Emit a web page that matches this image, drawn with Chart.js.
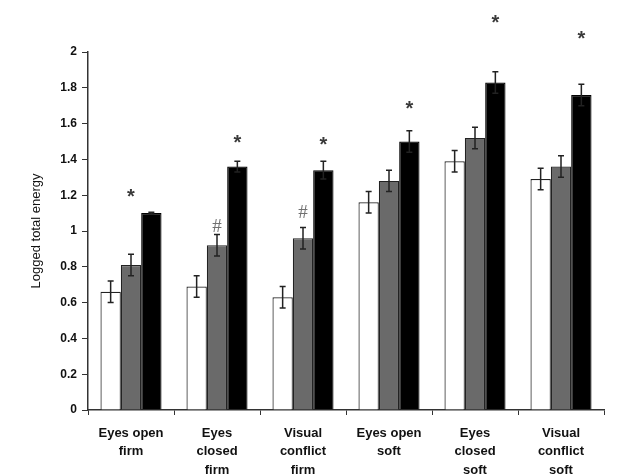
<!DOCTYPE html>
<html lang="en">
<head>
    <meta charset="UTF-8">
    <script src="https://cdn.jsdelivr.net/npm/chart.js"></script>
    <title>Logged total energy</title>
    <style>
        html, body { margin: 0; padding: 0; background: #fff; }
        #box { width: 622px; height: 476px; }
    </style>
</head>
<body>
    <div id="box"><canvas id="grafico"></canvas></div>

    <script>
        // dados
        const categorias = [
            ['Eyes open', 'firm'],
            ['Eyes', 'closed', 'firm'],
            ['Visual', 'conflict', 'firm'],
            ['Eyes open', 'soft'],
            ['Eyes', 'closed', 'soft'],
            ['Visual', 'conflict', 'soft']
        ]
        const valoresBranco = [0.66, 0.69, 0.63, 1.16, 1.39, 1.29]
        const valoresCinza = [0.81, 0.92, 0.96, 1.28, 1.52, 1.36]
        const valoresPreto = [1.10, 1.36, 1.34, 1.50, 1.83, 1.76]
        const erroBranco = [0.06, 0.06, 0.06, 0.06, 0.06, 0.06]
        const erroCinza = [0.06, 0.06, 0.06, 0.06, 0.06, 0.06]
        const erroPreto = [0.005, 0.03, 0.05, 0.06, 0.06, 0.06]

        // marcas de significancia: texto, serie, valor no eixo y
        const marcaTexto = ['*', '#', '*', '#', '*', '*', '*', '*']
        const marcaGrupo = [0, 1, 1, 2, 2, 3, 4, 5]
        const marcaSerie = [1, 1, 2, 1, 2, 2, 2, 2]
        const marcaValor = [1.21, 1.02, 1.51, 1.10, 1.50, 1.70, 2.18, 2.09]

        const yTicks = [0, 0.2, 0.4, 0.6, 0.8, 1, 1.2, 1.4, 1.6, 1.8, 2]

        const erros = [erroBranco, erroCinza, erroPreto]

        const pluginErros = {
            id: 'barrasErro',
            afterDatasetsDraw(chart) {
                const ctx = chart.ctx
                const y = chart.scales.y
                ctx.save()
                ctx.strokeStyle = '#222'
                ctx.lineWidth = 1.5
                chart.data.datasets.forEach(function (ds, i) {
                    const meta = chart.getDatasetMeta(i)
                    meta.data.forEach(function (barra, j) {
                        const v = ds.data[j]
                        const e = erros[i][j]
                        const topo = y.getPixelForValue(v + e)
                        const base = y.getPixelForValue(v - e)
                        ctx.beginPath()
                        ctx.moveTo(barra.x, topo)
                        ctx.lineTo(barra.x, base)
                        ctx.moveTo(barra.x - 3, topo)
                        ctx.lineTo(barra.x + 3, topo)
                        ctx.moveTo(barra.x - 3, base)
                        ctx.lineTo(barra.x + 3, base)
                        ctx.stroke()
                    })
                })

                // estrelas e #
                ctx.textAlign = 'center'
                ctx.textBaseline = 'middle'
                for (let k = 0; k < marcaTexto.length; k++) {
                    const barra = chart.getDatasetMeta(marcaSerie[k]).data[marcaGrupo[k]]
                    const py = y.getPixelForValue(marcaValor[k])
                    if (marcaTexto[k] == '*') {
                        ctx.fillStyle = '#3a3a3a'
                        ctx.font = 'bold 20px "Liberation Sans", Arial, sans-serif'
                        ctx.fillText('*', barra.x, py + 4)
                    } else {
                        ctx.fillStyle = '#707070'
                        ctx.font = '19px "Liberation Serif", serif'
                        ctx.fillText('#', barra.x, py)
                    }
                }
                ctx.restore()
            }
        }

        const data = {
            labels: categorias,
            datasets: [{
                label: 'branco',
                data: valoresBranco,
                backgroundColor: '#ffffff',
                borderColor: '#222',
                borderWidth: 1.2
            }, {
                label: 'cinza',
                data: valoresCinza,
                backgroundColor: '#6a6a6a',
                borderColor: '#222',
                borderWidth: 1.2
            }, {
                label: 'preto',
                data: valoresPreto,
                backgroundColor: '#000000',
                borderColor: '#000',
                borderWidth: 1.2
            }]
        }

        const config = {
            type: 'bar',
            data: data,
            plugins: [pluginErros],
            options: {
                responsive: true,
                maintainAspectRatio: false,
                animation: false,
                layout: { padding: { top: 52, right: 18, left: 0, bottom: 0 } },
                plugins: {
                    legend: { display: false },
                    tooltip: { enabled: false }
                },
                datasets: {
                    bar: { categoryPercentage: 0.71, barPercentage: 1.0 }
                },
                scales: {
                    x: {
                        grid: {
                            offset: true,
                            drawOnChartArea: false,
                            tickLength: 5,
                            color: '#333'
                        },
                        border: { color: '#333', width: 1.5 },
                        ticks: {
                            color: '#111',
                            maxRotation: 0,
                            autoSkip: false,
                            padding: 9,
                            font: { family: '"Liberation Sans", Arial, sans-serif', size: 13, weight: 'bold', lineHeight: 1.42 }
                        },
                        afterFit: function (scale) { scale.height = 66 }
                    },
                    y: {
                        min: 0,
                        max: 2,
                        afterBuildTicks: function (scale) {
                            scale.ticks = yTicks.map(function (v) { return { value: v } })
                        },
                        grid: {
                            drawOnChartArea: false,
                            tickLength: 6,
                            color: '#333'
                        },
                        border: { color: '#333', width: 1.5 },
                        ticks: {
                            color: '#111',
                            padding: 5,
                            callback: function (v) { return String(Math.round(v * 10) / 10) },
                            font: { family: '"Liberation Sans", Arial, sans-serif', size: 12, weight: 'bold' }
                        },
                        title: {
                            display: true,
                            text: 'Logged total energy',
                            color: '#111',
                            padding: { top: 29, bottom: 0 },
                            font: { family: '"Liberation Sans", Arial, sans-serif', size: 13 }
                        },
                        afterFit: function (scale) { scale.width = 88 }
                    }
                }
            }
        }

        var grafico = new Chart(document.getElementById('grafico'), config)
    </script>
</body>
</html>
